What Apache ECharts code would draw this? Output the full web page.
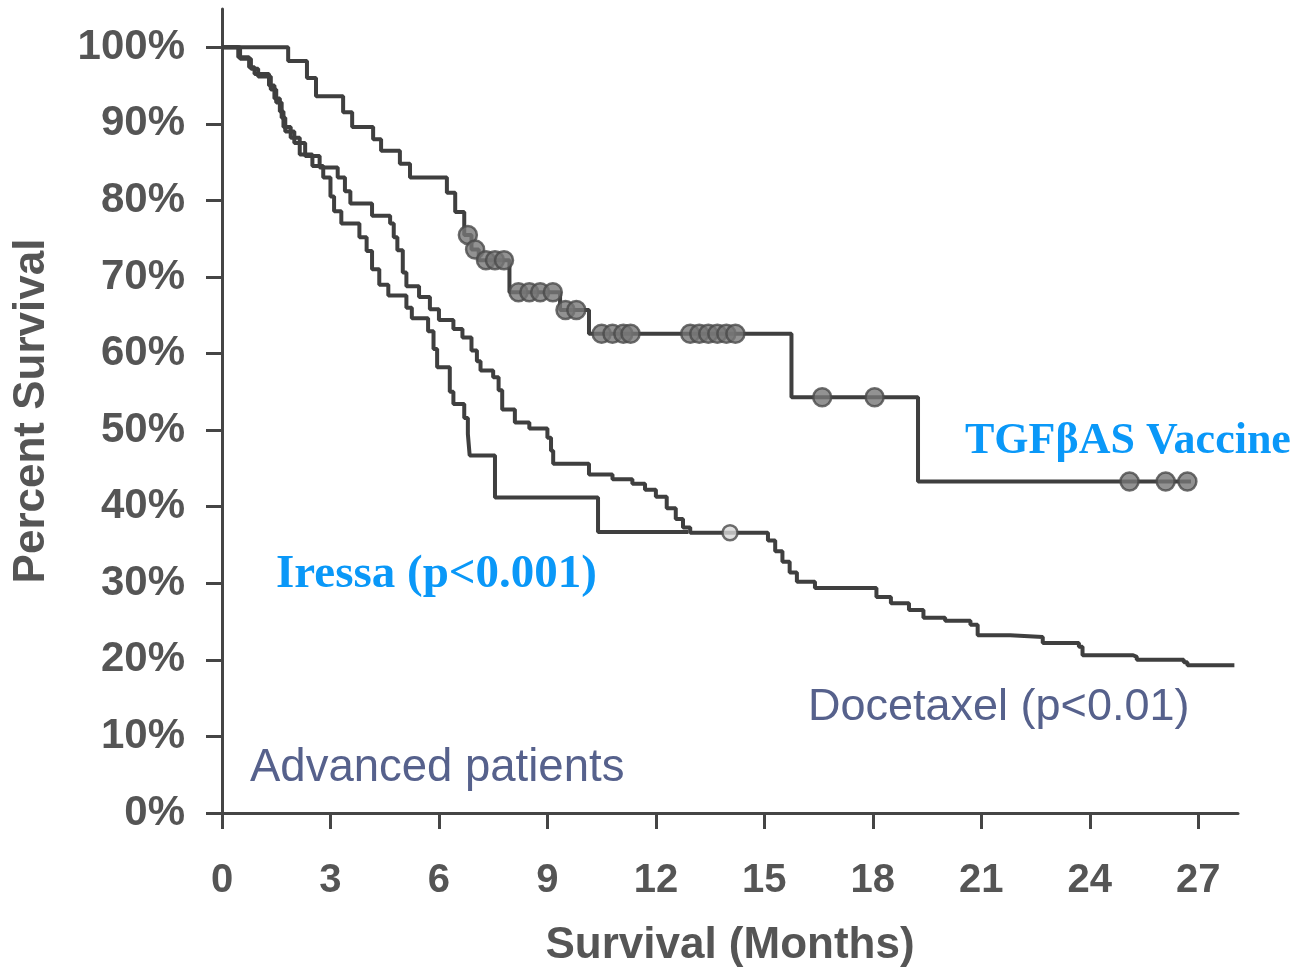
<!DOCTYPE html>
<html>
<head>
<meta charset="utf-8">
<script src="https://cdn.jsdelivr.net/npm/echarts@6/dist/echarts.min.js"></script>
<style>
  html, body { margin: 0; padding: 0; background: #fff; }
  #chart { width: 1291px; height: 968px; }
</style>
</head>
<body>
<div id="chart"></div>
<script>
// ---- data (months, % survival) ----
const xTicks = [0, 3, 6, 9, 12, 15, 18, 21, 24, 27];
const yTicks = [0, 10, 20, 30, 40, 50, 60, 70, 80, 90, 100];

const vaccineCurve = [
  [0, 100], [1.83, 98.2], [2.35, 96.0], [2.6, 93.6], [3.35, 91.5], [3.6, 89.6],
  [4.18, 88.0], [4.4, 86.5], [4.92, 84.8], [5.2, 83.0], [6.22, 81.0], [6.45, 78.5],
  [6.7, 75.5], [6.9, 73.6], [7.1, 72.2], [7.95, 68.0], [9.35, 65.7], [10.15, 62.6],
  [15.75, 54.3], [19.25, 43.3], [26.8, 43.3]
];
const vaccineCensored = [
  [6.8, 75.5], [7.0, 73.6], [7.3, 72.2], [7.55, 72.2], [7.8, 72.2],
  [8.2, 68.0], [8.5, 68.0], [8.8, 68.0], [9.15, 68.0],
  [9.5, 65.7], [9.8, 65.7],
  [10.5, 62.6], [10.8, 62.6], [11.1, 62.6], [11.3, 62.6],
  [12.95, 62.6], [13.2, 62.6], [13.45, 62.6], [13.7, 62.6], [13.95, 62.6], [14.2, 62.6],
  [16.6, 54.3], [18.05, 54.3],
  [25.1, 43.3], [26.1, 43.3], [26.7, 43.3]
];

const docetaxelCurve = [
  [0, 100], [0.5, 98.5], [0.8, 97.2], [1.0, 96.2], [1.35, 94.5], [1.5, 92.8],
  [1.65, 90.8], [1.75, 89.0], [2.0, 87.5], [2.3, 85.8], [2.7, 84.3], [3.2, 83.0],
  [3.4, 81.2], [3.55, 79.6], [4.15, 78.0], [4.65, 77.0], [4.75, 75.2], [4.85, 73.5],
  [5.0, 70.6], [5.1, 68.8], [5.45, 67.4], [5.75, 65.8], [6.0, 64.4], [6.4, 63.2],
  [6.65, 62.1], [6.9, 60.4], [7.05, 59.0], [7.15, 57.8], [7.5, 56.9], [7.65, 55.2],
  [7.75, 52.7], [8.1, 51.0], [8.5, 50.2], [9.0, 49.0], [9.1, 47.3], [9.16, 45.6],
  [10.15, 44.2], [10.8, 43.6], [11.35, 43.0], [11.7, 42.2], [12.0, 41.3], [12.3, 39.8],
  [12.55, 38.4], [12.75, 37.3], [12.95, 36.6], [15.1, 35.6], [15.3, 34.2], [15.5, 32.8],
  [15.7, 31.4], [15.9, 30.2], [16.4, 29.4], [18.1, 28.2], [18.5, 27.4], [19.0, 26.5],
  [19.4, 25.5], [20.0, 25.1], [20.7, 24.6], [20.9, 23.2], [21.8, 23.0], [22.7, 22.2],
  [23.7, 21.7], [23.8, 20.6], [25.2, 20.4], [25.3, 20.0], [26.6, 19.7], [26.7, 19.3],
  [28.0, 19.3]
];
const docetaxelCensored = [[14.05, 36.6]];

const iressaCurve = [
  [0, 100], [0.45, 98.7], [0.75, 97.4], [0.9, 96.5], [1.3, 95.0], [1.45, 93.3],
  [1.6, 91.6], [1.7, 89.6], [1.9, 88.2], [2.15, 86.0], [2.5, 84.5], [2.8, 83.0],
  [3.0, 80.5], [3.1, 78.6], [3.3, 77.0], [3.8, 75.2], [4.0, 73.4], [4.15, 71.0],
  [4.35, 69.0], [4.6, 67.6], [5.1, 66.0], [5.25, 64.6], [5.7, 62.9], [5.85, 60.6],
  [5.95, 58.2], [6.3, 55.0], [6.4, 53.4], [6.7, 51.6], [6.8, 49.5], [6.85, 46.7],
  [7.55, 41.2], [10.4, 36.7], [12.9, 36.7]
];

const labels = {
  vaccine: 'TGFβAS Vaccine',
  iressa: 'Iressa (p<0.001)',
  docetaxel: 'Docetaxel (p<0.01)',
  cohort: 'Advanced patients',
  xName: 'Survival (Months)',
  yName: 'Percent Survival'
};

// ---- chart ----
const chart = echarts.init(document.getElementById('chart'), null, { renderer: 'canvas' });
const axisColor = '#454545';
const textColor = '#555';
const lineColor = '#3f3f3f';
const sansBold = { fontFamily: 'Liberation Sans, Arial, sans-serif', fontWeight: 'bold', color: textColor };

const curveSeries = (name, data) => ({
  name, type: 'line', step: 'end', data, showSymbol: false, silent: true,
  lineStyle: { color: lineColor, width: 4 }, z: 3
});
const censorSeries = (name, data, fill, size) => ({
  name, type: 'scatter', data, symbol: 'circle', symbolSize: size, silent: true,
  itemStyle: { color: fill, borderColor: '#4a4a4a', borderWidth: 2.5 }, z: 4
});

chart.setOption({
  animation: false,
  backgroundColor: '#fff',
  grid: { left: 222, right: 53, top: 9, bottom: 155, containLabel: false, outerBoundsMode: 'none' },
  xAxis: {
    type: 'value', min: 0, max: 28.1, interval: 3,
    name: labels.xName, nameLocation: 'middle', nameGap: 111,
    nameTextStyle: Object.assign({ fontSize: 44 }, sansBold),
    axisLine: { show: true, lineStyle: { color: axisColor, width: 3 } },
    axisTick: { show: true, length: 16, customValues: xTicks, lineStyle: { color: axisColor, width: 3 } },
    axisLabel: Object.assign({ fontSize: 40, margin: 48, customValues: xTicks }, sansBold),
    splitLine: { show: false }
  },
  yAxis: {
    type: 'value', min: 0, max: 105, interval: 10,
    name: labels.yName, nameLocation: 'middle', nameGap: 168, nameRotate: 90,
    nameTextStyle: Object.assign({ fontSize: 44 }, sansBold),
    axisLine: { show: true, lineStyle: { color: axisColor, width: 3 } },
    axisTick: { show: true, length: 16, customValues: yTicks, lineStyle: { color: axisColor, width: 3 } },
    axisLabel: Object.assign({ fontSize: 42, margin: 37, customValues: yTicks, formatter: v => v + '%' }, sansBold),
    splitLine: { show: false }
  },
  series: [
    curveSeries('Iressa', iressaCurve),
    curveSeries('Docetaxel', docetaxelCurve),
    curveSeries('TGFβAS Vaccine', vaccineCurve),
    censorSeries('Vaccine censored', vaccineCensored, '#777777', 18),
    censorSeries('Docetaxel censored', docetaxelCensored, '#d8d8d8', 15)
  ],
  graphic: [
    { type: 'text', x: 965, y: 442, silent: true,
      style: { text: labels.vaccine, fill: '#0a98f8', font: 'bold 44px "Liberation Serif", "Times New Roman", serif', textVerticalAlign: 'middle', textAlign: 'left' } },
    { type: 'text', x: 276, y: 575, silent: true,
      style: { text: labels.iressa, fill: '#0a98f8', font: 'bold 47px "Liberation Serif", "Times New Roman", serif', textVerticalAlign: 'middle', textAlign: 'left' } },
    { type: 'text', x: 808, y: 708, silent: true,
      style: { text: labels.docetaxel, fill: '#56618c', font: '45px "Liberation Sans", Arial, sans-serif', textVerticalAlign: 'middle', textAlign: 'left' } },
    { type: 'text', x: 250, y: 768, silent: true,
      style: { text: labels.cohort, fill: '#56618c', font: '45.5px "Liberation Sans", Arial, sans-serif', textVerticalAlign: 'middle', textAlign: 'left' } }
  ]
});
</script>
</body>
</html>
